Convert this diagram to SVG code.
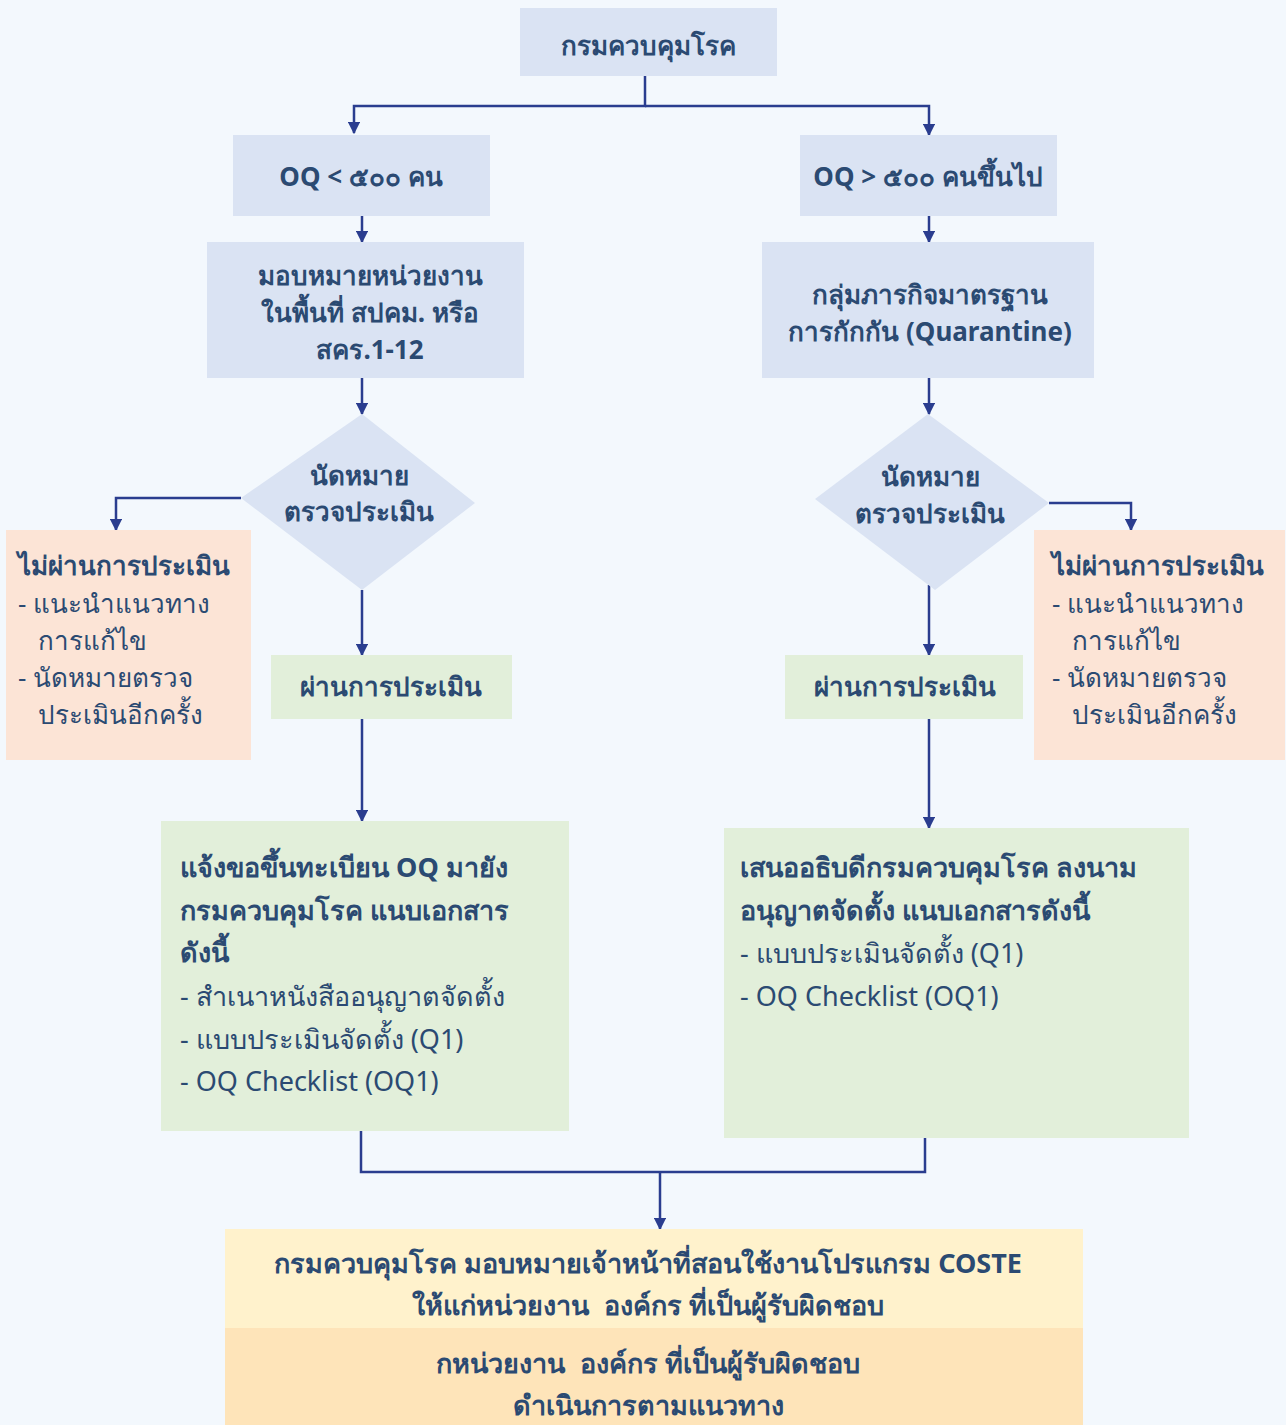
<svg xmlns="http://www.w3.org/2000/svg" width="1286" height="1425" viewBox="0 0 1286 1425">
<style>
text{font-family:"Noto Sans","DejaVu Sans",sans-serif;fill:#2b4a72;font-size:26px;white-space:pre}
.b{font-weight:bold}
.c{text-anchor:middle}
.l{font-size:27px}
.blue{fill:#dae3f3}
.green{fill:#e2efda}
.peach{fill:#fce4d6}
.conn{fill:none;stroke:#2a3d8f;stroke-width:2.5}
</style>
<defs>
<marker id="ah" viewBox="0 0 10 10" refX="9" refY="5" markerWidth="5" markerHeight="5" orient="auto" markerUnits="strokeWidth">
<path d="M0,0 L10,5 L0,10 z" fill="#2a3d8f"/>
</marker>
</defs>
<rect width="1286" height="1425" fill="#f3f8fd"/>
<g id="connectors">
<path class="conn" d="M645,76 V106 H354 V133" marker-end="url(#ah)"/>
<path class="conn" d="M645,106 H929 V135" marker-end="url(#ah)"/>
<path class="conn" d="M362,216 V242" marker-end="url(#ah)"/>
<path class="conn" d="M929,216 V242" marker-end="url(#ah)"/>
<path class="conn" d="M362,378 V414" marker-end="url(#ah)"/>
<path class="conn" d="M929,378 V414" marker-end="url(#ah)"/>
<path class="conn" d="M241,498 H116 V530" marker-end="url(#ah)"/>
<path class="conn" d="M1049,503 H1131 V530" marker-end="url(#ah)"/>
<path class="conn" d="M362,590 V655" marker-end="url(#ah)"/>
<path class="conn" d="M929,585 V655" marker-end="url(#ah)"/>
<path class="conn" d="M362,719 V821" marker-end="url(#ah)"/>
<path class="conn" d="M929,719 V828" marker-end="url(#ah)"/>
<path class="conn" d="M361,1131 V1172 H925 V1138"/>
<path class="conn" d="M660,1172 V1229" marker-end="url(#ah)"/>
</g>
<g id="n-top">
<rect class="blue" x="520" y="8" width="257" height="68"/>
<text class="b c" x="648" y="55">กรมควบคุมโรค</text>
</g>
<g id="n-oq-less">
<rect class="blue" x="233" y="135" width="257" height="81"/>
<text class="b c" x="361" y="186">OQ &lt; ๕๐๐ คน</text>
</g>
<g id="n-oq-more">
<rect class="blue" x="800" y="135" width="257" height="81"/>
<text class="b c" x="928" y="186">OQ &gt; ๕๐๐ คนขึ้นไป</text>
</g>
<g id="n-assign">
<rect class="blue" x="207" y="242" width="317" height="136"/>
<text class="b c" x="370" y="285">มอบหมายหน่วยงาน</text>
<text class="b c" x="370" y="322">ในพื้นที่ สปคม. หรือ</text>
<text class="b c" x="370" y="359">สคร.1-12</text>
</g>
<g id="n-quarantine">
<rect class="blue" x="762" y="242" width="332" height="136"/>
<text class="b c" x="930" y="304">กลุ่มภารกิจมาตรฐาน</text>
<text class="b c" x="930" y="341">การกักกัน (Quarantine)</text>
</g>
<g id="n-diamond-left">
<polygon class="blue" points="362,414 475,503 362,590 241,498"/>
<text class="b c" x="359" y="485">นัดหมาย</text>
<text class="b c" x="359" y="521">ตรวจประเมิน</text>
</g>
<g id="n-diamond-right">
<polygon class="blue" points="928,414 1049,503 935,590 815,499"/>
<text class="b c" x="930" y="486">นัดหมาย</text>
<text class="b c" x="930" y="523">ตรวจประเมิน</text>
</g>
<g id="n-fail-left">
<rect class="peach" x="6" y="530" width="245" height="230"/>
<text class="b" x="18" y="575">ไม่ผ่านการประเมิน</text>
<text x="18" y="613">- แนะนำแนวทาง</text>
<text x="38" y="650">การแก้ไข</text>
<text x="18" y="687">- นัดหมายตรวจ</text>
<text x="38" y="724">ประเมินอีกครั้ง</text>
</g>
<g id="n-fail-right">
<rect class="peach" x="1034" y="530" width="251" height="230"/>
<text class="b" x="1052" y="575">ไม่ผ่านการประเมิน</text>
<text x="1052" y="613">- แนะนำแนวทาง</text>
<text x="1072" y="650">การแก้ไข</text>
<text x="1052" y="687">- นัดหมายตรวจ</text>
<text x="1072" y="724">ประเมินอีกครั้ง</text>
</g>
<g id="n-pass-left">
<rect class="green" x="271" y="655" width="241" height="64"/>
<text class="b c" x="391" y="696">ผ่านการประเมิน</text>
</g>
<g id="n-pass-right">
<rect class="green" x="785" y="655" width="238" height="64"/>
<text class="b c" x="905" y="696">ผ่านการประเมิน</text>
</g>
<g id="n-register">
<rect class="green" x="161" y="821" width="408" height="310"/>
<text class="b l" x="180" y="877">แจ้งขอขึ้นทะเบียน OQ มายัง</text>
<text class="b l" x="180" y="920">กรมควบคุมโรค แนบเอกสาร</text>
<text class="b l" x="180" y="962">ดังนี้</text>
<text class="l" x="180" y="1006">- สำเนาหนังสืออนุญาตจัดตั้ง</text>
<text class="l" x="180" y="1049">- แบบประเมินจัดตั้ง (Q1)</text>
<text class="l" x="180" y="1091">- OQ Checklist (OQ1)</text>
</g>
<g id="n-propose">
<rect class="green" x="724" y="828" width="465" height="310"/>
<text class="b l" x="740" y="877">เสนออธิบดีกรมควบคุมโรค ลงนาม</text>
<text class="b l" x="740" y="920">อนุญาตจัดตั้ง แนบเอกสารดังนี้</text>
<text class="l" x="740" y="963">- แบบประเมินจัดตั้ง (Q1)</text>
<text class="l" x="740" y="1006">- OQ Checklist (OQ1)</text>
</g>
<g id="n-train">
<rect x="225" y="1229" width="858" height="99" fill="#fff2cc"/>
<text class="b c l" x="648" y="1273">กรมควบคุมโรค มอบหมายเจ้าหน้าที่สอนใช้งานโปรแกรม COSTE</text>
<text class="b c l" x="648" y="1315">ให้แก่หน่วยงาน  องค์กร ที่เป็นผู้รับผิดชอบ</text>
</g>
<g id="n-operate">
<rect x="225" y="1328" width="858" height="97" fill="#fee4b9"/>
<text class="b c l" x="648" y="1373">กหน่วยงาน  องค์กร ที่เป็นผู้รับผิดชอบ</text>
<text class="b c l" x="648" y="1415">ดำเนินการตามแนวทาง</text>
</g>
</svg>
